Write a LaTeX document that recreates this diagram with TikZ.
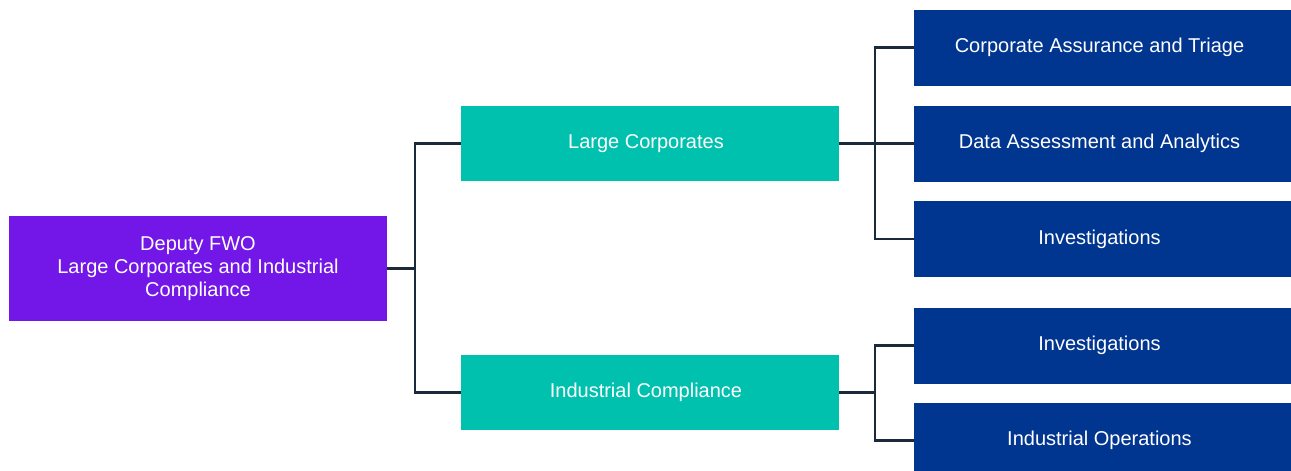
\documentclass[tikz,border=0pt]{standalone}
\usepackage{fontspec}
\setmainfont{Liberation Sans}
\definecolor{rootpurple}{HTML}{7316E8}
\definecolor{midteal}{HTML}{00C1AE}
\definecolor{leafblue}{HTML}{003590}
\definecolor{linenavy}{HTML}{1B2A3A}
\tikzset{
  box/.style={rectangle, inner sep=0pt, text=white, align=center,
    font=\fontsize{20}{23}\selectfont, minimum width=378pt},
  rootbox/.style={box, fill=rootpurple, minimum height=105pt},
  midbox/.style={box, fill=midteal, minimum height=75pt, execute at end node={\hspace*{8pt}}},
  leafbox/.style={box, fill=leafblue, minimum height=76pt, execute at end node={\hspace*{7pt}}},
  conn/.style={draw=linenavy, line width=2.4pt}
}
\begin{document}
\begin{tikzpicture}[x=1pt,y=-1pt]
\useasboundingbox (0,0) rectangle (1291,471);
\clip (0,0) rectangle (1291,471);
\node[rootbox] (root) at (198,268.5) {Deputy FWO\\Large Corporates and Industrial\hspace*{12pt}\\Compliance};
\node[midbox] (lc) at (650,143.5) {Large Corporates};
\node[midbox] (ic) at (650,392.5) {Industrial Compliance};
\node[leafbox] (r1) at (1103,47.5) {Corporate Assurance and Triage};
\node[leafbox] (r2) at (1103,143.5) {Data Assessment and Analytics};
\node[leafbox] (r3) at (1103,239) {Investigations};
\node[leafbox] (r4) at (1103,345.5) {Investigations};
\node[leafbox] (r5) at (1103,440.5) {Industrial Operations};
\draw[conn] (root.east) -- ++(28,0) |- (lc.west);
\draw[conn] (root.east) -- ++(28,0) |- (ic.west);
\draw[conn] (lc.east) -- ++(35.5,0) |- (r1.west);
\draw[conn] (lc.east) -- (r2.west);
\draw[conn] (lc.east) -- ++(35.5,0) |- (r3.west);
\draw[conn] (ic.east) -- ++(35.5,0) |- (r4.west);
\draw[conn] (ic.east) -- ++(35.5,0) |- (r5.west);
\end{tikzpicture}
\end{document}
